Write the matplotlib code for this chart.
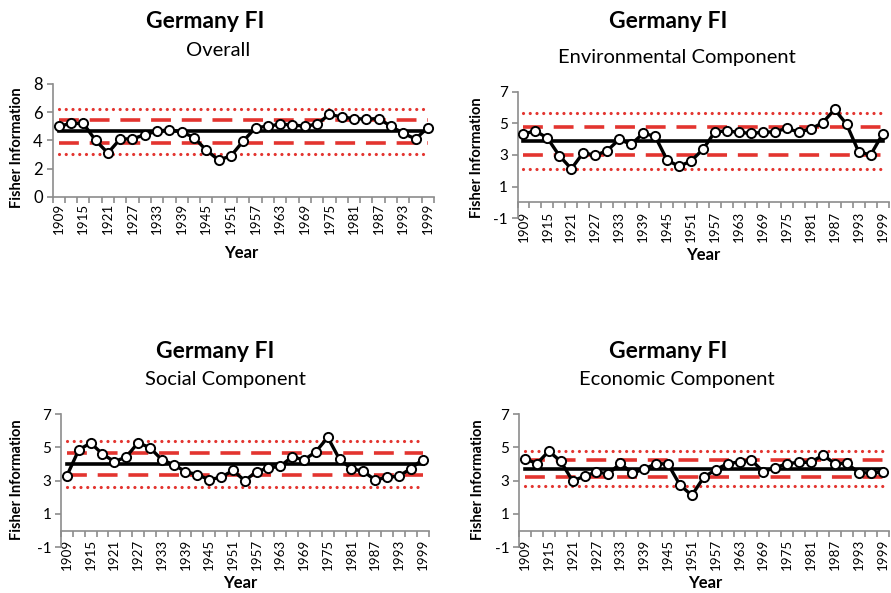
import matplotlib
matplotlib.use("Agg")
import matplotlib.pyplot as plt
from matplotlib.ticker import FixedLocator, NullFormatter

plt.rcParams['font.family'] = ['Lato', 'DejaVu Sans']

years = [1909, 1912, 1915, 1918, 1921, 1924, 1927, 1930, 1933, 1936, 1939,
         1942, 1945, 1948, 1951, 1954, 1957, 1960, 1963, 1966, 1969, 1972,
         1975, 1978, 1981, 1984, 1987, 1990, 1993, 1996, 1999]
label_years = [1909, 1915, 1921, 1927, 1933, 1939, 1945, 1951, 1957, 1963,
               1969, 1975, 1981, 1987, 1993, 1999]

overall = [5.0, 5.2, 5.2, 4.0, 3.1, 4.1, 4.1, 4.4, 4.65, 4.75, 4.6, 4.2, 3.3,
           2.6, 2.9, 3.95, 4.9, 5.0, 5.15, 5.1, 5.0, 5.15, 5.85, 5.65, 5.55,
           5.5, 5.55, 5.0, 4.5, 4.1, 4.9]
environmental = [4.33, 4.52, 4.07, 2.95, 2.13, 3.15, 2.97, 3.28, 3.99, 3.67,
                 4.37, 4.18, 2.68, 2.28, 2.62, 3.36, 4.47, 4.52, 4.43, 4.37,
                 4.43, 4.47, 4.68, 4.45, 4.64, 5.04, 5.88, 4.94, 3.21, 3.0, 4.31]
social = [3.3, 4.85, 5.26, 4.6, 4.14, 4.42, 5.28, 4.98, 4.26, 3.96, 3.54, 3.36,
          3.06, 3.2, 3.61, 3.0, 3.54, 3.76, 3.86, 4.44, 4.24, 4.74, 5.6, 4.28,
          3.72, 3.56, 3.04, 3.2, 3.27, 3.72, 4.26]
economic = [4.32, 4.02, 4.77, 4.16, 2.98, 3.27, 3.52, 3.4, 4.04, 3.44, 3.7,
            4.02, 4.0, 2.74, 2.12, 3.2, 3.66, 4.02, 4.12, 4.22, 3.54, 3.78,
            4.02, 4.1, 4.1, 4.54, 4.02, 4.04, 3.48, 3.46, 3.5]

# mean, +-1 sd (dashed), +-2 sd (dotted)
overall_lines = [4.64, 5.44, 3.83, 6.25, 3.0]
environmental_lines = [3.91, 4.79, 3.0, 5.67, 2.12]
social_lines = [3.99, 4.68, 3.32, 5.4, 2.6]
economic_lines = [3.72, 4.24, 3.2, 4.76, 2.68]

subtitles = ["Overall", "Environmental Component", "Social Component", "Economic Component"]

W, H = 891, 593
fig = plt.figure(figsize=(W / 100, H / 100), dpi=100)

RED = '#e3342f'
GRAY = '#8c8c8c'


def add_axes(left, right, top, bottom):
    return fig.add_axes([left / W, 1 - bottom / H, (right - left) / W, (bottom - top) / H])


def ftext(x, y, s, **kw):
    fig.text(x / W, 1 - y / H, s, ha='center', va='center', **kw)


panels = [
    dict(box=(52.5, 434, 84, 196.7), ylim=(0, 8), yticks=[0, 2, 4, 6, 8], data=overall,
         lines=overall_lines, title=(205, 22), sub=(218, 50), ylab=(17, 148), xlab=(241, 253),
         ytf=12, pad=4.5),
    dict(box=(517.5, 888.5, 91.7, 218.3), ylim=(-1, 7), yticks=[-1, 1, 3, 5, 7], data=environmental,
         lines=environmental_lines, title=(668, 22), sub=(677, 57), ylab=(477, 158), xlab=(703, 255),
         ytf=11, pad=6),
    dict(box=(61, 428.5, 414, 547.3), ylim=(-1, 7), yticks=[-1, 1, 3, 5, 7], data=social,
         lines=social_lines, title=(215, 352), sub=(225, 380), ylab=(17, 480), xlab=(240, 583),
         ytf=11, pad=6),
    dict(box=(519, 888.5, 414, 547.3), ylim=(-1, 7), yticks=[-1, 1, 3, 5, 7], data=economic,
         lines=economic_lines, title=(668, 352), sub=(677, 380), ylab=(478, 480), xlab=(705, 583),
         ytf=11, pad=6),
]

for p, sub in zip(panels, subtitles):
    ax = add_axes(*p['box'])
    ax.set_xlim(years[0] - 1.5, years[-1] + 1.5)
    ax.set_ylim(*p['ylim'])
    mean, d_hi, d_lo, o_hi, o_lo = p['lines']
    x0, x1 = years[0], years[-1]
    ax.plot([x0, x1], [o_hi, o_hi], color=RED, lw=2.3, ls=(0, (0.01, 2.1)),
            dash_capstyle='round', zorder=2)
    ax.plot([x0, x1], [o_lo, o_lo], color=RED, lw=2.3, ls=(0, (0.01, 2.1)),
            dash_capstyle='round', zorder=2)
    ax.plot([x0, x1], [d_hi, d_hi], color=RED, lw=2.6, ls=(0, (5.5, 3)), zorder=2)
    ax.plot([x0, x1], [d_lo, d_lo], color=RED, lw=2.6, ls=(0, (5.5, 3)), zorder=2)
    ax.plot([x0, x1], [mean, mean], color='black', lw=2.6, zorder=3)
    ax.plot(years, p['data'], color='black', lw=2.4, marker='o', markersize=6.6,
            markerfacecolor='white', markeredgecolor='black', markeredgewidth=1.4, zorder=4)

    for s in ['top', 'right']:
        ax.spines[s].set_visible(False)
    ax.spines['left'].set_color(GRAY)
    ax.spines['bottom'].set_color(GRAY)
    ax.spines['left'].set_linewidth(1.2)
    ax.spines['bottom'].set_linewidth(1.2)
    ax.spines['bottom'].set_position(('data', 0))

    ax.set_yticks(p['yticks'])
    ax.set_yticklabels([str(v) for v in p['yticks']], fontsize=p['ytf'])
    ax.tick_params(axis='y', direction='out', length=4, width=1.2, color=GRAY, pad=3)

    ax.xaxis.set_major_locator(FixedLocator(label_years))
    ax.set_xticklabels([str(y) for y in label_years], rotation=90, fontsize=9.6)
    ax.xaxis.set_minor_locator(FixedLocator([years[0] - 1.5 + 3 * k for k in range(len(years) + 1)]))
    ax.xaxis.set_minor_formatter(NullFormatter())
    ax.tick_params(axis='x', which='major', length=0, pad=p['pad'])
    ax.tick_params(axis='x', which='minor', direction='out', length=4, width=1.2, color=GRAY)
    ax.patch.set_alpha(0)

    ftext(p['title'][0], p['title'][1], "Germany FI", fontsize=16.5, fontweight='bold')
    ftext(p['sub'][0], p['sub'][1], sub, fontsize=14.5)
    ftext(p['ylab'][0], p['ylab'][1], "Fisher Information", fontsize=10.5, fontweight='bold', rotation=90)
    ftext(p['xlab'][0], p['xlab'][1], "Year", fontsize=12, fontweight='bold')

fig.savefig("out.png", dpi=100)
